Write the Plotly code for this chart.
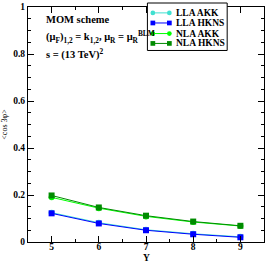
import plotly.graph_objects as go

Y = [5, 6, 7, 8, 9]
lla_akk = [0.125, 0.082, 0.052, 0.035, 0.022]
lla_hkns = [0.122, 0.079, 0.050, 0.033, 0.020]
nla_akk = [0.190, 0.144, 0.109, 0.085, 0.068]
nla_hkns = [0.198, 0.147, 0.112, 0.087, 0.069]

series = [
    ("LLA AKK", lla_akk, "#40E0D0", "circle"),
    ("LLA HKNS", lla_hkns, "#0000FF", "square"),
    ("NLA AKK", nla_akk, "#00FF00", "circle"),
    ("NLA HKNS", nla_hkns, "#008B00", "square"),
]

FONT = "Liberation Serif"
fig = go.Figure()
for name, vals, col, sym in series:
    fig.add_trace(go.Scatter(
        x=Y, y=vals, name=name, mode="lines+markers",
        line=dict(color=col, width=1),
        marker=dict(color=col, symbol=sym, size=6, line=dict(width=0)),
        showlegend=False,
    ))

axis_common = dict(
    showline=True, linecolor="black", linewidth=1, mirror="ticks",
    ticks="inside", ticklen=6, tickwidth=1, tickcolor="black",
    showgrid=False, zeroline=False,
    tickfont=dict(family=FONT, size=9.5, color="black", weight="bold"),
)

fig.update_xaxes(range=[4.5, 9.5], dtick=1, ticklabelstandoff=-4,
                 minor=dict(ticks="inside", dtick=0.5, ticklen=3, tickcolor="black"),
                 **axis_common)
fig.update_yaxes(range=[0, 1], dtick=0.2, tickformat="~g",
                 minor=dict(ticks="inside", dtick=0.05, ticklen=3, tickcolor="black"),
                 title=dict(text="<cos 3φ>", font=dict(family=FONT, size=8, color="black"), standoff=4),
                 **axis_common)

# x-axis title
fig.add_annotation(x=0.5, y=-0.068, xref="paper", yref="paper", xanchor="center", yanchor="middle",
                   text="<b>Y</b>", showarrow=False,
                   font=dict(family=FONT, size=9.5, color="black"))

ann_font = dict(family=FONT, size=10.5, color="black")
fig.add_annotation(x=0.068, y=0.945, xref="paper", yref="paper", xanchor="left", yanchor="middle",
                   text="<b>MOM scheme</b>", showarrow=False, font=ann_font)
fig.add_annotation(x=0.068, y=0.874, xref="paper", yref="paper", xanchor="left", yanchor="middle",
                   text="<b>(μ<sub>F</sub>)<sub>1,2</sub> = k<sub>1,2</sub>, μ<sub>R</sub> = μ<sub>R</sub><sup>BLM</sup></b>",
                   showarrow=False, font=ann_font)
fig.add_annotation(x=0.068, y=0.80, xref="paper", yref="paper", xanchor="left", yanchor="middle",
                   text="<b>s = (13 TeV)<sup>2</sup></b>", showarrow=False, font=ann_font)

# compact legend drawn in paper coordinates (grace-style)
leg_x0, leg_x1, leg_y0, leg_y1 = 0.506, 0.844, 0.815, 1.017
fig.add_shape(type="rect", xref="paper", yref="paper", x0=leg_x0, x1=leg_x1, y0=leg_y0, y1=leg_y1,
              line=dict(color="black", width=1), fillcolor="white", layer="above")
entry_y = [0.975, 0.932, 0.887, 0.845]
lx0, lx1 = 0.529, 0.599
mw, mh = 0.010, 0.010
for (name, vals, col, sym), ey in zip(series, entry_y):
    fig.add_shape(type="line", xref="paper", yref="paper", x0=lx0, x1=lx1, y0=ey, y1=ey,
                  line=dict(color=col, width=1), layer="above")
    for mx in (lx0, lx1):
        fig.add_shape(type="circle" if sym == "circle" else "rect", xref="paper", yref="paper",
                      x0=mx - mw, x1=mx + mw, y0=ey - mh, y1=ey + mh,
                      line=dict(color=col, width=0), fillcolor=col, layer="above")
    fig.add_annotation(x=0.617, y=ey, xref="paper", yref="paper", xanchor="left", yanchor="middle",
                       text="<b>%s</b>" % name, showarrow=False,
                       font=dict(family=FONT, size=9.5, color="black"))

fig.update_layout(
    width=267, height=263,
    margin=dict(l=28, r=2, t=5, b=21),
    plot_bgcolor="white", paper_bgcolor="white",
    showlegend=False,
)

fig.write_html("out.html", config={"displayModeBar": False},
               post_script="document.body.style.margin='0';document.body.style.overflow='hidden';")
